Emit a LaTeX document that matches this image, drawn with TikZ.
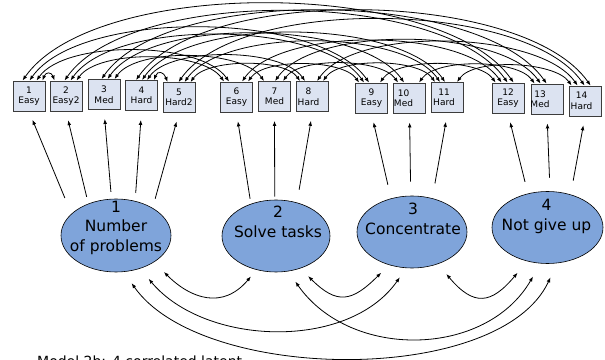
\documentclass[tikz,border=0pt]{standalone}
\usepackage{fontspec}
\setmainfont{DejaVu Sans}
\usetikzlibrary{arrows.meta,calc,shapes.geometric}
\definecolor{itemfill}{RGB}{220,227,241}
\definecolor{itemline}{RGB}{60,60,60}
\definecolor{latentfill}{RGB}{127,164,218}
\tikzset{hd/.tip={Latex[length=5pt,width=3.8pt]}}
% item box: framed box plus its two-line label (optionally nudged sideways)
\newcommand\itembox[5]{%
  \node[itembox] (#1) at (#2) {};
  \node[itemtext] (#1t) at ($(#1)+(#3,0)$) {#4\\#5};}
\begin{document}
\begin{tikzpicture}[x=1pt,y=1pt,
  itembox/.style={draw=itemline, line width=0.9pt, fill=itemfill,
    minimum width=32pt, minimum height=30pt, inner sep=0pt},
  itemtext/.style={font=\fontsize{9}{10.5}\selectfont, align=center, inner sep=0pt},
  latent/.style={ellipse, draw=black, line width=0.6pt, fill=latentfill, inner sep=0pt},
  latenttext/.style={font=\fontsize{15.5}{19.5}\selectfont, align=center, inner sep=0pt},
  load/.style={-hd, line width=0.8pt, shorten >=9pt},
  corr/.style={hd-hd, line width=0.8pt},
  toparc/.style={out=55, in=125, looseness=0.66},
  smallarc/.style={out=70, in=110, looseness=2},
]
\useasboundingbox (0,0) rectangle (605,359);
\clip (0,0) rectangle (605,359);

% observed items
\itembox{b1}{29,263}{0}{1}{Easy}
\itembox{b2}{66,263}{0}{2}{Easy2}
\itembox{b3}{104,264.5}{0}{3}{Med}
\itembox{b4}{141.5,263.5}{0}{4}{Hard}
\itembox{b5}{179,261.5}{0}{5}{Hard2}
\itembox{b6}{236.5,262}{0}{6}{Easy}
\itembox{b7}{274.5,262.5}{0}{7}{Med}
\itembox{b8}{312.5,262.5}{-4}{8}{Hard}
\itembox{b9}{371.5,261}{0}{9}{Easy}
\itembox{b10}{409.5,261}{-6}{10}{Med}
\itembox{b11}{447.5,261.5}{-3.5}{11}{Hard}
\itembox{b12}{508,261}{0}{12}{Easy}
\itembox{b13}{547,260}{-7}{13}{Med}
\itembox{b14}{585,258}{-3.5}{14}{Hard}

% latent factors
\node[latent, minimum width=110pt, minimum height=73pt] (e1) at (116,123.5) {};
\node[latent, minimum width=108pt, minimum height=72pt] (e2) at (276,123) {};
\node[latent, minimum width=110pt, minimum height=72pt] (e3) at (412,127) {};
\node[latent, minimum width=111pt, minimum height=72pt] (e4) at (547.5,131.5) {};
\node[latenttext] (t1) at (116,131.3) {1\\Number\\of problems};
\node[latenttext] (t2) at (278,137) {2\\Solve tasks};
\node[latenttext] (t3) at (413,140) {3\\Concentrate};
\node[latenttext] (t4) at (546.5,142.5) {4\\Not give up};

% loadings
\foreach \e/\a/\g/\b in {e1/154/17/b1, e1/131/7/b2, e1/97/7/b3, e1/61/8/b4, e1/37/9.5/b5,
    e2/128/5/b6, e2/92/3/b7, e2/58/13/b8,
    e3/122/14/b9, e3/92/14/b10, e3/59/15/b11,
    e4/120/12/b12, e4/86/13.5/b13, e4/55/14/b14}
  \draw[load, shorten <=\g pt] (\e.\a) -- (\b.south);

% residual correlations between items of equal difficulty
\foreach \p/\op/\q/\oq in {b1/10/b12/22, b1/17/b9/14, b1/24/b6/9,
    b2/15/b12/16, b2/21/b9/9, b2/27/b6/4,
    b6/22/b12/10, b6/28/b9/4, b9/25/b12/4,
    b3/14/b13/16, b3/20/b10/11, b3/27/b7/6,
    b7/17/b13/10, b7/25/b10/5, b10/26/b13/4,
    b4/11/b14/22, b4/17/b11/14, b4/22/b8/9,
    b5/16/b14/16, b5/22/b11/9, b5/28/b8/4,
    b8/21/b14/9, b8/27/b11/4, b11/26/b14/3}
  \draw[corr] ([xshift=\op pt]\p.north west) to[toparc] ([xshift=\oq pt]\q.north west);
\draw[corr] ([xshift=30pt]b1.north west) to[smallarc] ([xshift=5pt]b2.north west);
\draw[corr] ([xshift=29pt]b4.north west) to[smallarc] ([xshift=5pt]b5.north west);

% factor correlations
\draw[corr, shorten <=13.8pt, shorten >=8.6pt] (e1.325) to[out=-45, in=-130, looseness=1.3] (e2.240);
\draw[corr, shorten <=11pt, shorten >=11pt] (e2.307) to[out=-45, in=-135, looseness=1.5] (e3.235);
\draw[corr, shorten <=13pt, shorten >=15pt] (e3.309) to[out=-50, in=-130, looseness=1.6] (e4.239);
\draw[corr, shorten <=13.3pt, shorten >=11.3pt] (e1.306) to[out=-50, in=-125, looseness=0.97] (e3.261);
\draw[corr, shorten <=12.5pt, shorten >=15pt] (e2.289) to[out=-55, in=-120, looseness=1.1] (e4.259);
\draw[corr, shorten <=13.7pt, shorten >=15.6pt] (e1.282) to[out=-55, in=-115, looseness=0.8] (e4.285);

% caption
\node[anchor=base west, font=\fontsize{14}{16}\selectfont, inner sep=0pt] (cap) at (37,-7) {Model 2b: 4 correlated latent};
\end{tikzpicture}
\end{document}
